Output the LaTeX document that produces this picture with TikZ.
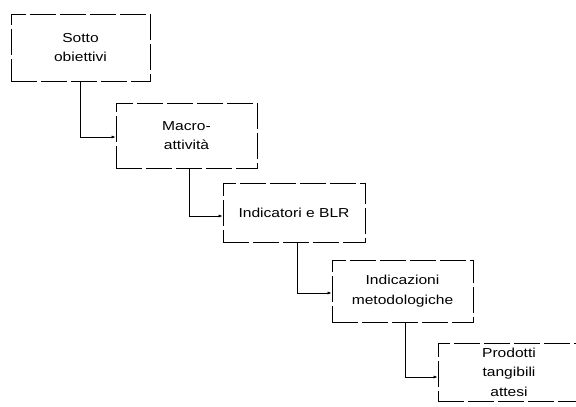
\documentclass[tikz,border=0pt]{standalone}
\usepackage{fontspec}
\setmainfont{Liberation Sans}
\newfontfamily\boxfont[FakeStretch=1.2]{Liberation Sans}
\usetikzlibrary{arrows.meta}
\begin{document}
\begin{tikzpicture}[x=1pt,y=-1pt,
  box/.style={draw, dash pattern=on 26pt off 4pt, line width=0.75pt, align=center,
    font=\boxfont\fontsize{13}{19.5}\selectfont, inner sep=0pt},
  conn/.style={line width=0.7pt, -{Latex[length=4pt,width=3pt]}}]
\useasboundingbox (0,0) rectangle (576,407);
\clip (0,0) rectangle (576,407);
\node[box, minimum width=139, minimum height=67] (b1) at (80.5,47.5) {Sotto\\obiettivi};
\node[box, minimum width=141, minimum height=65] (b2) at (186.5,135.5) {Macro-\\attività};
\node[box, minimum width=142, minimum height=59] (b3) at (294,212.5) {Indicatori e BLR};
\node[box, minimum width=141, minimum height=62] (b4) at (402.5,291) {Indicazioni\\metodologiche};
\node[box, minimum width=142, minimum height=58] (b5) at (509,372) {Prodotti\\tangibili\\attesi};
\draw[conn] (b1.south) |- ([yshift=-1.5pt]b2.west);
\draw[conn] ([xshift=2.5pt]b2.south) |- ([yshift=-3.5pt]b3.west);
\draw[conn] ([xshift=3pt]b3.south) |- ([yshift=-2pt]b4.west);
\draw[conn] ([xshift=2.5pt]b4.south) |- ([yshift=-5pt]b5.west);
\end{tikzpicture}
\end{document}
